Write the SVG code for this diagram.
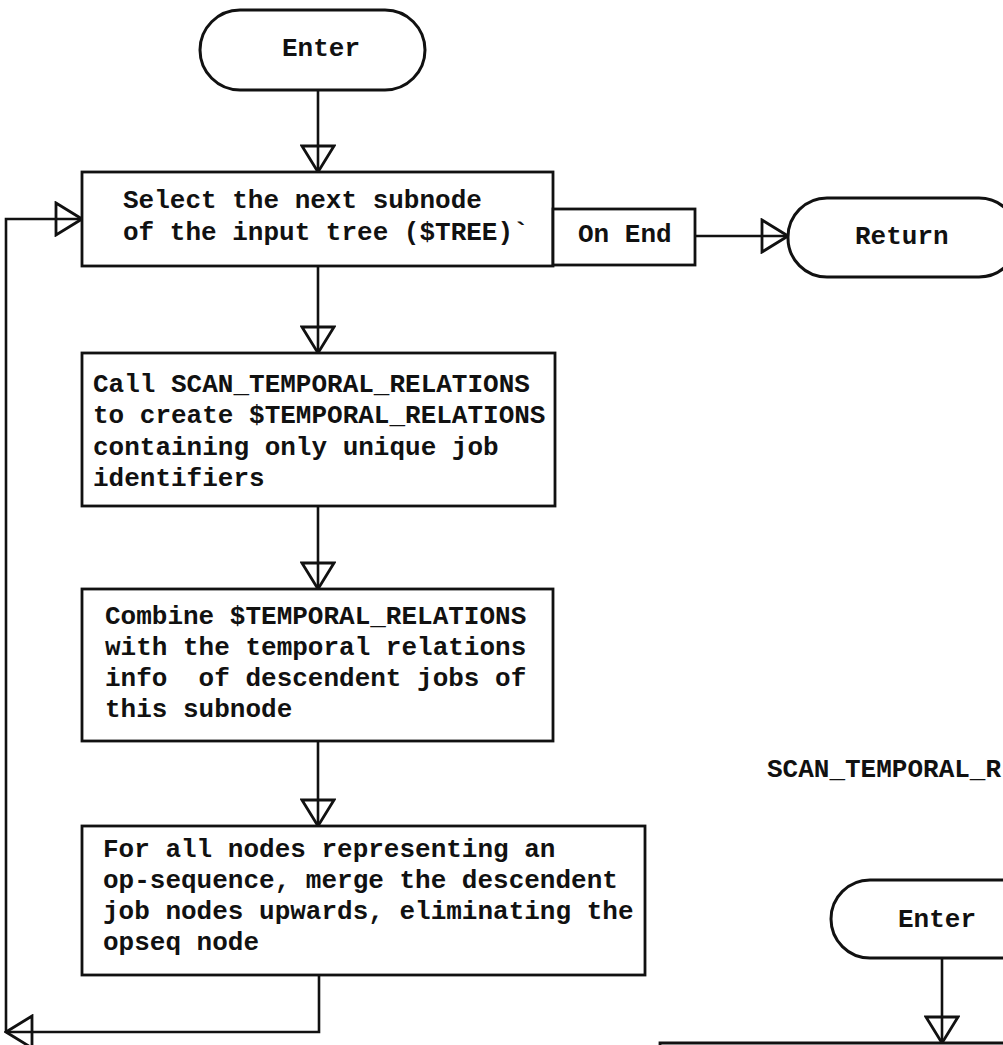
<svg xmlns="http://www.w3.org/2000/svg" width="1003" height="1045" viewBox="0 0 1003 1045">
<style>
.box{fill:#fff;stroke:#111;stroke-width:2.8}
.term{fill:#fff;stroke:#111;stroke-width:3}
.t{font-family:"Liberation Mono","Courier New",monospace;font-size:26px;font-weight:bold;fill:#111}
.c{fill:none;stroke:#111;stroke-width:2.6}
</style>
<defs>
<marker id="ah" viewBox="0 0 30 36" refX="28" refY="18" markerWidth="30" markerHeight="36" markerUnits="userSpaceOnUse" orient="auto">
<path d="M2,2 L28,18 L2,34 Z" fill="none" stroke="#111" stroke-width="2.8" stroke-linejoin="miter"/>
</marker>
</defs>
<rect width="1003" height="1045" fill="#fff"/>
<g id="connectors">
<path class="c" d="M318,90 V172" marker-end="url(#ah)"/>
<path class="c" d="M318,266 V353" marker-end="url(#ah)"/>
<path class="c" d="M318,506 V589" marker-end="url(#ah)"/>
<path class="c" d="M318,741 V826" marker-end="url(#ah)"/>
<path class="c" d="M695,236 H788" marker-end="url(#ah)"/>
<path class="c" d="M319,975 V1032 H6" marker-end="url(#ah)"/>
<path class="c" d="M6,1032 V219 H82" marker-end="url(#ah)"/>
<path class="c" d="M942,958 V1043" marker-end="url(#ah)"/>
</g>
<g id="enter1">
<rect class="term" x="200" y="10" width="225" height="80" rx="40"/>
<text class="t" x="282" y="56">Enter</text>
</g>
<g id="select">
<rect class="box" x="82" y="172" width="471" height="94"/>
<text class="t" x="123" y="208">Select the next subnode</text>
<text class="t" x="123" y="240">of the input tree ($TREE)`</text>
</g>
<g id="onend">
<rect class="box" x="553" y="209" width="142" height="56"/>
<text class="t" x="578" y="242">On End</text>
</g>
<g id="return">
<rect class="term" x="788" y="198" width="230" height="79" rx="39"/>
<text class="t" x="855" y="244">Return</text>
</g>
<g id="call">
<rect class="box" x="82" y="353" width="473" height="153"/>
<text class="t" x="93" y="392">Call SCAN_TEMPORAL_RELATIONS</text>
<text class="t" x="93" y="423">to create $TEMPORAL_RELATIONS</text>
<text class="t" x="93" y="455">containing only unique job</text>
<text class="t" x="93" y="486">identifiers</text>
</g>
<g id="combine">
<rect class="box" x="82" y="589" width="471" height="152"/>
<text class="t" x="105" y="624">Combine $TEMPORAL_RELATIONS</text>
<text class="t" x="105" y="655">with the temporal relations</text>
<text class="t" x="105" y="686" xml:space="preserve">info  of descendent jobs of</text>
<text class="t" x="105" y="717">this subnode</text>
</g>
<g id="forall">
<rect class="box" x="82" y="826" width="563" height="149"/>
<text class="t" x="103" y="857">For all nodes representing an</text>
<text class="t" x="103" y="888">op-sequence, merge the descendent</text>
<text class="t" x="103" y="919">job nodes upwards, eliminating the</text>
<text class="t" x="103" y="950">opseq node</text>
</g>
<g id="title2">
<text class="t" x="767" y="777">SCAN_TEMPORAL_R</text>
</g>
<g id="enter2">
<rect class="term" x="831" y="880" width="222" height="78" rx="39"/>
<text class="t" x="898" y="927">Enter</text>
</g>
<g id="box2">
<path class="box" d="M660,1043 H1010 V1060 H660 Z"/>
</g>
</svg>
